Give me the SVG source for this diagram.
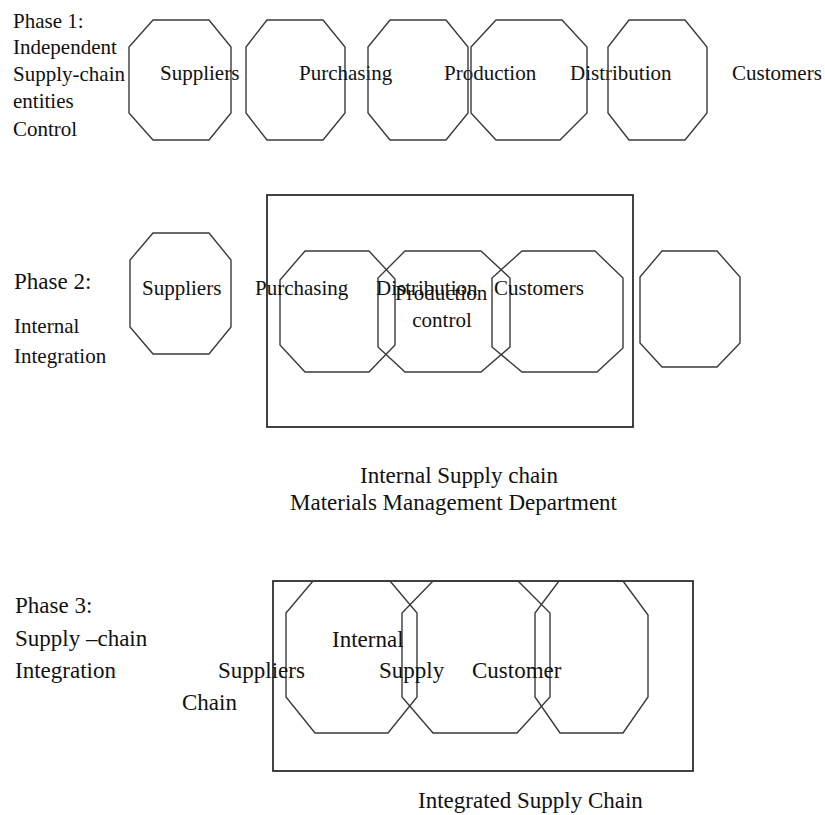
<svg xmlns="http://www.w3.org/2000/svg" width="825" height="815" viewBox="0 0 825 815">
  <style>
    .oct { fill: none; stroke: #3a3a3a; stroke-width: 1.4; stroke-linejoin: miter; }
    .box { fill: none; stroke: #222; stroke-width: 1.7; }
    text { font-family: "Liberation Serif", "Times New Roman", serif; fill: #111; }
    .s21 { font-size: 21px; }
    .s23 { font-size: 23px; }
  </style>
  <rect x="0" y="0" width="825" height="815" fill="#ffffff"/>

  <!-- Phase 1 -->
  <g id="phase1-label" class="s21">
    <text x="13" y="28">Phase 1:</text>
    <text x="13" y="54">Independent</text>
    <text x="13" y="81">Supply-chain</text>
    <text x="13" y="108">entities</text>
    <text x="13" y="136">Control</text>
  </g>
  <g id="p1-suppliers">
    <polygon class="oct" points="153,20 209,20 231,47 231,113 209,140 153,140 129,113 129,47"/>
    <text class="s21" x="160" y="80">Suppliers</text>
  </g>
  <g id="p1-purchasing">
    <polygon class="oct" points="267,20 323,20 345,47 345,113 323,140 267,140 246,113 246,47"/>
    <text class="s21" x="299" y="80">Purchasing</text>
  </g>
  <g id="p1-production">
    <polygon class="oct" points="390,20 446,20 468,47 468,113 446,140 390,140 368,113 368,47"/>
    <text class="s21" x="444" y="80">Production</text>
  </g>
  <g id="p1-distribution">
    <polygon class="oct" points="496,20 562,20 587,47 587,113 560,140 496,140 471,113 471,47"/>
    <text class="s21" x="570" y="80">Distribution</text>
  </g>
  <g id="p1-customers">
    <polygon class="oct" points="629,20 685,20 707,47 707,113 685,140 629,140 608,113 608,47"/>
    <text class="s21" x="732" y="80">Customers</text>
  </g>

  <!-- Phase 2 -->
  <g id="phase2-label">
    <text class="s23" x="14" y="289">Phase 2:</text>
    <text class="s21" x="14" y="333">Internal</text>
    <text class="s21" x="14" y="363">Integration</text>
  </g>
  <g id="p2-internal-box">
    <rect class="box" x="267" y="195" width="366" height="232"/>
  </g>
  <g id="p2-suppliers">
    <polygon class="oct" points="153,233 209,233 231,260 231,327 209,354 153,354 130,327 130,260"/>
    <text class="s21" x="142" y="295">Suppliers</text>
  </g>
  <g id="p2-purchasing">
    <polygon class="oct" points="305,251 369,251 395,279 395,345 369,372 305,372 280,345 280,280"/>
    <text class="s21" x="255" y="295">Purchasing</text>
  </g>
  <g id="p2-production">
    <polygon class="oct" points="405,251 481,251 510,278 510,347 481,372 405,372 378,347 378,278"/>
    <text class="s21" x="376" y="295">Distribution</text>
    <text class="s21" x="395" y="300">Production</text>
    <text class="s21" x="442" y="327" text-anchor="middle">control</text>
  </g>
  <g id="p2-customers">
    <polygon class="oct" points="522,251 595,251 623,278 623,348 597,372 522,372 492,347 492,278"/>
    <text class="s21" x="494" y="295">Customers</text>
  </g>
  <g id="p2-external">
    <polygon class="oct" points="662,251 717,251 740,277 740,343 717,367 662,367 640,343 640,277"/>
  </g>
  <g id="p2-caption" class="s23">
    <text x="360" y="483">Internal Supply chain</text>
    <text x="290" y="510">Materials Management Department</text>
  </g>

  <!-- Phase 3 -->
  <g id="phase3-label" class="s23">
    <text x="15" y="613">Phase 3:</text>
    <text x="15" y="646">Supply –chain</text>
    <text x="15" y="678">Integration</text>
  </g>
  <g id="p3-integrated-box">
    <rect class="box" x="273" y="581" width="420" height="190"/>
  </g>
  <g id="p3-suppliers-chain">
    <polygon class="oct" points="313,581 390,581 417,613 417,697 388,733 315,733 286,697 286,613"/>
    <text class="s23" x="218" y="678">Suppliers</text>
    <text class="s23" x="182" y="710">Chain</text>
  </g>
  <g id="p3-internal-supply">
    <polygon class="oct" points="433,581 518,581 550,613 550,697 517,733 433,733 402,697 402,613"/>
    <text class="s23" x="332" y="647">Internal</text>
    <text class="s23" x="379" y="678">Supply</text>
  </g>
  <g id="p3-customer">
    <polygon class="oct" points="559,581 623,581 648,615 648,697 623,733 560,733 535,697 535,613"/>
    <text class="s23" x="472" y="678">Customer</text>
  </g>
  <g id="p3-caption">
    <text class="s23" x="418" y="808">Integrated Supply Chain</text>
  </g>

  <g id="connectors"></g>
</svg>
